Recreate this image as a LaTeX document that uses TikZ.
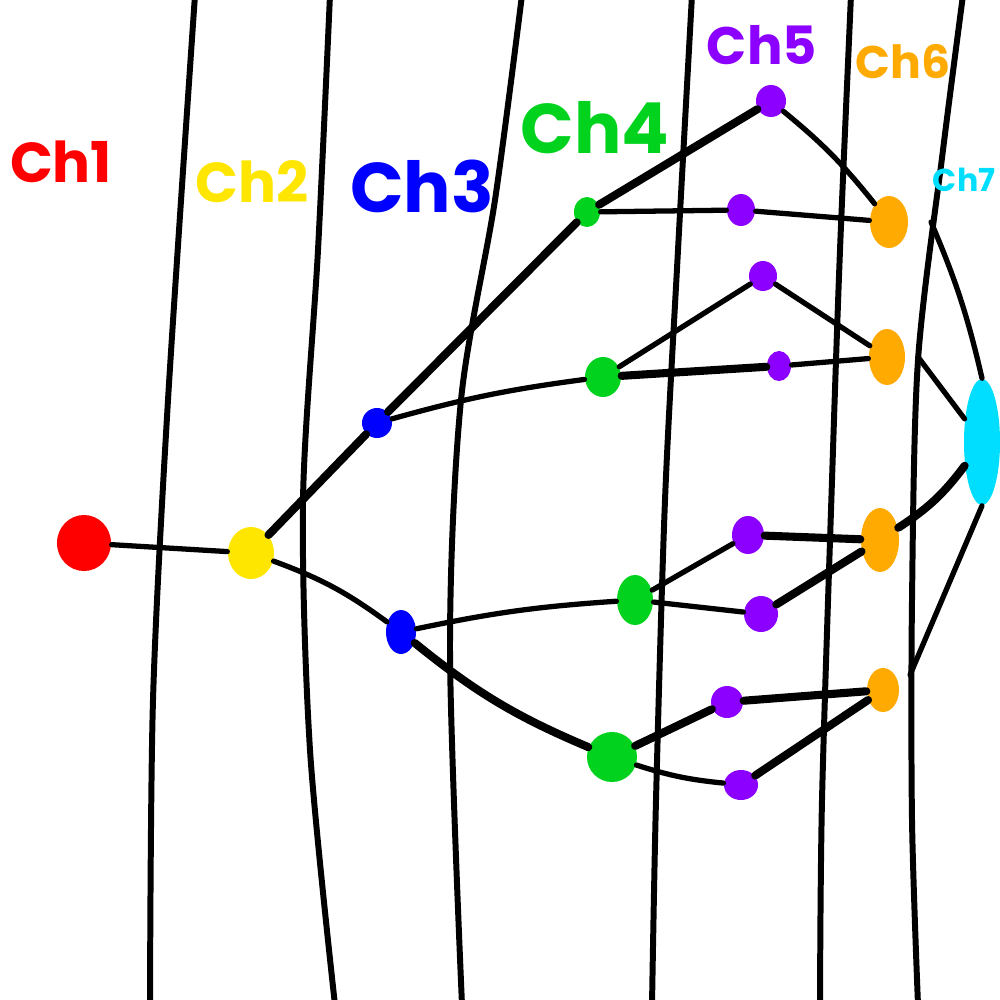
\documentclass[tikz,border=0pt]{standalone}
\usepackage{fontspec}
\setmainfont{Poppins}
\definecolor{chred}{RGB}{255,0,0}
\definecolor{chyellow}{RGB}{255,230,0}
\definecolor{chblue}{RGB}{0,0,255}
\definecolor{chgreen}{RGB}{0,210,30}
\definecolor{chpurple}{RGB}{140,0,255}
\definecolor{chorange}{RGB}{255,170,0}
\definecolor{chcyan}{RGB}{0,222,255}
\usetikzlibrary{shapes.geometric}

\begin{document}
\begin{tikzpicture}[
  x=0.01cm, y=-0.01cm,
  dot/.style={ellipse, inner sep=0pt, draw=none},
  lane/.style={line width=1.7pt, black, line cap=round},
  link/.style={line width=1.5pt, black, line cap=round},
  heavy/.style={line width=2.3pt, black, line cap=round},
  tag/.style={font=\bfseries\fontsize{#1}{#1}\selectfont, inner sep=0pt},
  tag/.default=16
]
\useasboundingbox (0,0) rectangle (1000,1000);
\clip (0,0) rectangle (1000,1000);

% lanes
\draw[lane] plot[smooth] coordinates {(195,-5) (168,400) (153,700) (150,1005)};
\draw[lane] plot[smooth] coordinates {(330,-5) (318,250) (303,500) (310,750) (335,1005)};
\draw[lane] plot[smooth] coordinates {(522,-5) (495,200) (461,400) (450,650) (462,1005)};
\draw[lane] plot[smooth] coordinates {(692,-5) (678,250) (665,500) (656,800) (652,1005)};
\draw[lane] plot[smooth] coordinates {(851,-5) (840,250) (832,480) (822,800) (820,1005)};
\draw[lane] plot[smooth] coordinates {(963,-5) (943,150) (918,360) (912,600) (912,820) (918,1005)};

% channel tags
\node[tag, text=chred] (t1) at (61,162) {Ch1};
\node[tag, text=chyellow] (t2) at (252,182) {Ch2};
\node[tag=20, text=chblue] (t3) at (422,186) {Ch3};
\node[tag=20, text=chgreen] (t4) at (595,128) {Ch4};
\node[tag=15, text=chpurple] (t5) at (762,45) {Ch5};
\node[tag=13, text=chorange] (t6) at (903,62) {Ch6};
\node[tag=9, text=chcyan, anchor=east] (t7) at (996,180) {Ch7};

% nodes
\node[dot, fill=chred, minimum width=0.54cm, minimum height=0.56cm] (r1) at (84,543) {};
\node[dot, fill=chyellow, minimum width=0.46cm, minimum height=0.52cm] (y1) at (251,553) {};
\node[dot, fill=chblue, minimum width=0.30cm, minimum height=0.30cm] (b1) at (377,423) {};
\node[dot, fill=chblue, minimum width=0.30cm, minimum height=0.44cm] (b2) at (401,632) {};
\node[dot, fill=chgreen, minimum width=0.26cm, minimum height=0.30cm] (g1) at (587,212) {};
\node[dot, fill=chgreen, minimum width=0.36cm, minimum height=0.40cm] (g2) at (603,377) {};
\node[dot, fill=chgreen, minimum width=0.36cm, minimum height=0.50cm] (g3) at (635,600) {};
\node[dot, fill=chgreen, minimum width=0.50cm, minimum height=0.50cm] (g4) at (612,757) {};
\node[dot, fill=chpurple, minimum width=0.30cm, minimum height=0.32cm] (p1) at (771,101) {};
\node[dot, fill=chpurple, minimum width=0.28cm, minimum height=0.32cm] (p2) at (741,210) {};
\node[dot, fill=chpurple, minimum width=0.28cm, minimum height=0.30cm] (p3) at (763,276) {};
\node[dot, fill=chpurple, minimum width=0.24cm, minimum height=0.30cm] (p4) at (779,366) {};
\node[dot, fill=chpurple, minimum width=0.32cm, minimum height=0.38cm] (p5) at (748,535) {};
\node[dot, fill=chpurple, minimum width=0.34cm, minimum height=0.36cm] (p6) at (761,614) {};
\node[dot, fill=chpurple, minimum width=0.32cm, minimum height=0.32cm] (p7) at (727,702) {};
\node[dot, fill=chpurple, minimum width=0.34cm, minimum height=0.30cm] (p8) at (741,785) {};
\node[dot, fill=chorange, minimum width=0.38cm, minimum height=0.52cm] (o1) at (889,222) {};
\node[dot, fill=chorange, minimum width=0.36cm, minimum height=0.56cm] (o2) at (887,357) {};
\node[dot, fill=chorange, minimum width=0.38cm, minimum height=0.64cm] (o3) at (880,540) {};
\node[dot, fill=chorange, minimum width=0.32cm, minimum height=0.44cm] (o4) at (883,690) {};
\node[dot, fill=chcyan, minimum width=0.36cm, minimum height=1.26cm] (c1) at (982,442) {};

% free ends on the last lane
\coordinate (e1) at (931,222);
\coordinate (e2) at (918,357);
\coordinate (e3) at (910,675);

% links
\draw[link] (r1) -- (y1);
\draw[heavy] (y1) -- (b1);
\draw[link] (y1) to[bend left=8] (b2);
\draw[heavy] (b1) -- (g1);
\draw[link] (b1) to[bend left=4] (g2);
\draw[link] (b2) to[bend left=4] (g3);
\draw[heavy] (b2) to[bend right=8] (g4);
\draw[heavy] (g1) -- (p1);
\draw[link] (g1) -- (p2);
\draw[link] (g2) -- (p3);
\draw[heavy] (g2) -- (p4);
\draw[link] (g3) -- (p5);
\draw[link] (g3) -- (p6);
\draw[heavy] (g4) -- (p7);
\draw[link] (g4) to[bend right=6] (p8);
\draw[link] (p1) to[bend left=6] (o1);
\draw[link] (p2) -- (o1);
\draw[link] (p3) -- (o2);
\draw[link] (p4) -- (o2);
\draw[heavy] (p5) -- (o3);
\draw[heavy] (p6) -- (o3);
\draw[heavy] (p7) -- (o4);
\draw[heavy] (p8) -- (o4);
\draw[link] (e1) to[bend left=5] (c1.north);
\draw[link] (e2) -- (c1);
\draw[heavy] (o3) to[bend right=10] (c1);
\draw[link] (e3) -- (c1.south);
\end{tikzpicture}
\end{document}
